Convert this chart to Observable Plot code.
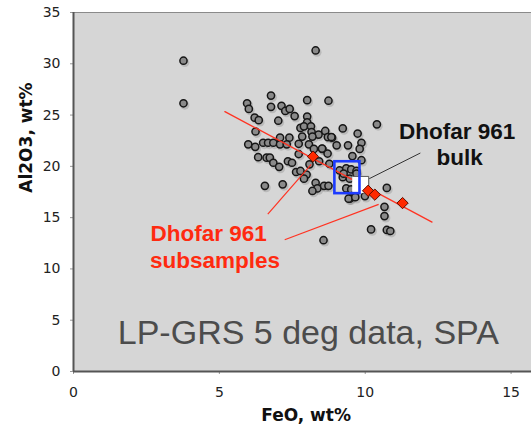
<!DOCTYPE html>
<html><head><meta charset="utf-8">
<script src="https://cdn.jsdelivr.net/npm/d3@7"></script>
<script src="https://cdn.jsdelivr.net/npm/@observablehq/plot@0.6"></script>
<style>
html,body{margin:0;padding:0;background:#fff;}
#chart svg{display:block;}
</style></head><body><div id="chart"></div>
<script>
// LP-GRS 5 deg data (gray circles)
const feo = [3.77,3.77,8.30,8.57,
 5.95,6.01,6.77,6.77,8.01,8.74,7.13,7.26,7.41,7.58,6.21,6.35,7.02,8.01,8.01,7.78,
 7.90,8.14,8.16,8.40,8.63,8.72,8.86,9.23,9.74,10.40,6.24,7.84,8.19,5.99,6.23,6.50,
 6.67,6.85,7.08,7.08,7.40,7.31,7.72,8.07,8.24,8.53,9.02,9.41,9.87,9.81,7.72,8.71,
 9.56,9.87,6.33,6.62,6.73,6.85,7.05,7.35,7.49,8.09,8.42,8.77,7.63,7.78,7.99,7.90,
 9.12,9.35,9.52,9.70,9.23,9.47,9.70,6.56,7.17,8.30,8.36,8.19,8.59,8.74,9.35,9.52,
 9.47,9.64,9.99,10.74,10.66,10.66,10.20,10.74,10.86,9.72,9.26,9.43,9.66,8.84,8.52];
const al2o3 = [30.3,26.15,31.3,12.8,
 26.15,25.6,26.9,25.8,26.45,26.4,25.9,25.4,25.6,24.9,24.75,24.5,24.45,24.85,24.3,23.75,
 23.9,23.9,23.35,23.1,23.45,22.85,22.8,23.7,23.2,24.1,23.4,22.9,22.9,22.15,21.9,22.3,
 22.3,22.3,22.8,22.15,22.8,22.15,22.2,22.15,21.7,21.7,22.05,22.05,22.3,21.7,21.2,21.25,
 21.0,20.6,20.9,20.85,20.85,20.35,19.95,20.5,20.35,20.2,20.5,20.25,19.45,19.55,19.2,18.8,
 19.6,19.8,19.7,19.55,18.95,18.8,19.3,18.1,18.25,18.4,17.85,17.6,18.1,18.1,17.85,17.75,
 16.85,17.25,17.1,17.9,16.05,15.15,13.85,13.8,13.7,18.63,19.29,16.85,17.0,22.86,21.73];

// Dhofar 961 subsamples (red diamonds)
const subFeo = [8.21,10.10,10.33,11.28];
const subAl = [20.95,17.62,17.24,16.42];

// trend line through the subsamples
const trendFeo = [5.19,12.29];
const trendAl = [25.34,14.57];

// Dhofar 961 bulk (white square) and the blue box
const bulkFeo = [9.57,10.12];
const bulkAl = [17.34,19.02];
const boxFeo = [8.96,9.82];
const boxAl = [17.34,20.45];

// leader lines
const bulkLeaderFeo = [10.14,11.89];
const bulkLeaderAl = [18.8,21.3];
const subLeader1Feo = [6.66,8.15];
const subLeader1Al = [15.35,20.2];
const subLeader2Feo = [7.24,10.46];
const subLeader2Al = [12.85,16.29];

// labels
const bulkLabels = ["Dhofar 961","bulk"];
const bulkLabelFeo = [13.15,13.24];
const bulkLabelAl = [23.4,20.8];
const subLabels = ["Dhofar 961","subsamples"];
const subLabelFeo = [4.63,4.85];
const subLabelAl = [13.41,10.8];
const bigLabel = "LP-GRS 5 deg data, SPA";
const bigLabelFeo = 8.05;
const bigLabelAl = 3.77;

const xTicks = [0,5,10,15];
const yTicks = [0,5,10,15,20,25,30,35];
const xTitle = "FeO, wt%";
const yTitle = "Al2O3, wt%";

const points = feo.map((x,i)=>({x, y: al2o3[i]}));
const subs = subFeo.map((x,i)=>({x, y: subAl[i]}));
const trend = trendFeo.map((x,i)=>({x, y: trendAl[i]}));
const bulk = [{x1: bulkFeo[0], x2: bulkFeo[1], y1: bulkAl[0], y2: bulkAl[1]}];
const bulkEdge = [{x: bulkFeo[0], y: bulkAl[1]}, {x: bulkFeo[1], y: bulkAl[1]}, {x: bulkFeo[1], y: bulkAl[0]}];
const box = [{x1: boxFeo[0], x2: boxFeo[1], y1: boxAl[0], y2: boxAl[1]}];
const redLeaders = [
  {x1: subLeader1Feo[0], y1: subLeader1Al[0], x2: subLeader1Feo[1], y2: subLeader1Al[1]},
  {x1: subLeader2Feo[0], y1: subLeader2Al[0], x2: subLeader2Feo[1], y2: subLeader2Al[1]}
];
const blackLeader = [{x1: bulkLeaderFeo[0], y1: bulkLeaderAl[0], x2: bulkLeaderFeo[1], y2: bulkLeaderAl[1]}];
const bulkText = bulkLabels.map((t,i)=>({t, x: bulkLabelFeo[i], y: bulkLabelAl[i]}));
const subText = subLabels.map((t,i)=>({t, x: subLabelFeo[i], y: subLabelAl[i]}));

const annoFont = "Liberation Sans, Arial, sans-serif";

const chart = Plot.plot({
  width: 531,
  height: 432,
  marginLeft: 73,
  marginRight: 0,
  marginTop: 12,
  marginBottom: 61,
  style: {fontFamily: "DejaVu Sans, sans-serif", fontSize: "14px", color: "#222", background: "#fff"},
  x: {domain: [0, 15.7]},
  y: {domain: [0, 35]},
  marks: [
    Plot.frame({fill: "#d6d6d6", stroke: null}),
    Plot.ruleY([35], {stroke: "#8a8a8a", strokeWidth: 1}),
    Plot.axisX({ticks: xTicks, tickSize: 3, tickPadding: 13, label: null, stroke: "#999", fill: "#222", tickFormat: d => String(d)}),
    Plot.axisY({ticks: yTicks, tickSize: 3, tickPadding: 10, label: null, stroke: "#999", fill: "#222", tickFormat: d => String(d)}),
    Plot.ruleX([0], {stroke: "#555", strokeWidth: 2}),
    Plot.ruleY([0], {stroke: "#555", strokeWidth: 2}),
    // dots with soft shadow
    Plot.dot(points, {x: "x", y: "y", r: 4.6, fill: "#000", fillOpacity: 0.13, dx: 1.3, dy: 1.8}),
    Plot.dot(points, {x: "x", y: "y", r: 3.6, fill: "#8a8a8a", stroke: "#161616", strokeWidth: 1.5}),
    Plot.line(trend, {x: "x", y: "y", stroke: "#ff3322", strokeWidth: 1.3}),
    Plot.rect(bulk, {x1: "x1", x2: "x2", y1: "y1", y2: "y2", fill: "#fff"}),
    Plot.line(bulkEdge, {x: "x", y: "y", stroke: "#555", strokeWidth: 1}),
    Plot.rect(box, {x1: "x1", x2: "x2", y1: "y1", y2: "y2", fill: "none", stroke: "#1d3bff", strokeWidth: 2.6}),
    Plot.dot(subs, {x: "x", y: "y", symbol: "diamond2", r: 5.1, fill: "#ff2a00", stroke: "#5a0c00", strokeWidth: 1}),
    Plot.link(blackLeader, {x1: "x1", y1: "y1", x2: "x2", y2: "y2", stroke: "#333", strokeWidth: 1}),
    Plot.link(redLeaders, {x1: "x1", y1: "y1", x2: "x2", y2: "y2", stroke: "#ff3322", strokeWidth: 1.2}),
    Plot.text(bulkText, {x: "x", y: "y", text: "t", fontFamily: annoFont, fontWeight: "bold", fontSize: 22.5, fill: "#111", ariaLabel: "bulk-label"}),
    Plot.text(subText, {x: "x", y: "y", text: "t", fontFamily: annoFont, fontWeight: "bold", fontSize: 22.5, fill: "#ff2a10", ariaLabel: "sub-label"}),
    Plot.text([bigLabel], {x: () => bigLabelFeo, y: () => bigLabelAl, text: d => d, fontFamily: annoFont, fontSize: 34, fill: "#4c4c4c"}),
    // axis titles
    Plot.text([xTitle], {frameAnchor: "bottom", text: d => d, dx: 3.6, dy: 49.6, fontWeight: "bold", fontSize: 17, fill: "#111"}),
    Plot.text([yTitle], {frameAnchor: "left", text: d => d, rotate: -90, dx: -47.4, dy: 0.7, fontWeight: "bold", fontSize: 17, fill: "#111"})
  ]
});
// soft drop shadow on the annotation labels
d3.select(chart).selectAll('g[aria-label="bulk-label"], g[aria-label="sub-label"]')
  .style("filter", "drop-shadow(2px 2px 1.2px rgba(0,0,0,0.35))");
document.getElementById("chart").appendChild(chart);
</script>
</body></html>
